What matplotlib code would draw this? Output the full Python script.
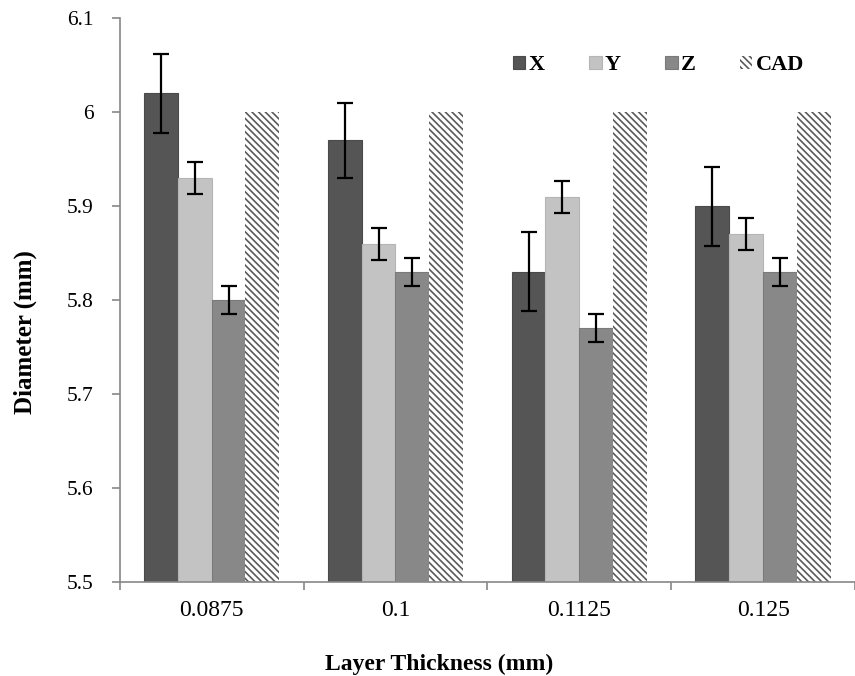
import matplotlib.pyplot as plt
import numpy as np

# -----------------------
# Data
# -----------------------
layers = ["0.0875", "0.1", "0.1125", "0.125"]
x_vals = [6.02, 5.97, 5.83, 5.90]
x_err = [0.042, 0.040, 0.042, 0.042]
y_vals = [5.93, 5.86, 5.91, 5.87]
y_err = [0.017, 0.017, 0.017, 0.017]
z_vals = [5.80, 5.83, 5.77, 5.83]
z_err = [0.015, 0.015, 0.015, 0.015]
cad_vals = [6.0, 6.0, 6.0, 6.0]

plt.rcParams['font.family'] = ['Liberation Serif', 'DejaVu Serif']
plt.rcParams['hatch.linewidth'] = 1.2

fig = plt.figure(figsize=(8.55, 6.76), dpi=100)
ax = fig.add_axes([0.140, 0.139, 0.860, 0.834])

pos = np.arange(len(layers))
w = 0.184
err_kw = dict(ecolor="black", elinewidth=1.6, capsize=6, capthick=1.6)

ax.bar(pos - 1.5 * w, x_vals, w, yerr=x_err, color="#555555", edgecolor="#4a4a4a",
       linewidth=0.8, error_kw=err_kw, label="X")
ax.bar(pos - 0.5 * w, y_vals, w, yerr=y_err, color="#c3c3c3", edgecolor="#b5b5b5",
       linewidth=0.8, error_kw=err_kw, label="Y")
ax.bar(pos + 0.5 * w, z_vals, w, yerr=z_err, color="#888888", edgecolor="#7a7a7a",
       linewidth=0.8, error_kw=err_kw, label="Z")
ax.bar(pos + 1.5 * w, cad_vals, w, color="white", edgecolor="#5a5a5a",
       linewidth=0, hatch="\\\\\\\\\\", label="CAD")

ax.set_ylim(5.5, 6.1)
ax.set_xlim(-0.5, len(layers) - 0.5)
ax.set_yticks([5.5, 5.6, 5.7, 5.8, 5.9, 6.0, 6.1])
ax.set_yticklabels(["5.5", "5.6", "5.7", "5.8", "5.9", "6", "6.1"])
ax.set_xticks(pos)
ax.set_xticklabels(layers)
ax.set_xticks(np.arange(len(layers) + 1) - 0.5, minor=True)
ax.tick_params(axis="x", which="major", length=0, pad=13, labelsize=17)
ax.tick_params(axis="x", which="minor", length=6, color="#888888", width=1.2)
ax.tick_params(axis="y", length=6, color="#888888", width=1.2, labelsize=15.5, pad=13)

for s in ["top", "right"]:
    ax.spines[s].set_visible(False)
for s in ["left", "bottom"]:
    ax.spines[s].set_color("#888888")
    ax.spines[s].set_linewidth(1.2)

ax.set_ylabel("Diameter (mm)", fontsize=18, fontweight="bold")
ax.yaxis.set_label_coords(-0.113, 0.443)
ax.set_xlabel("Layer Thickness (mm)", fontsize=17, fontweight="bold")
ax.xaxis.set_label_coords(0.435, -0.127)

ax.legend(loc="upper right", bbox_to_anchor=(0.958, 0.97), ncol=4, frameon=False,
          handlelength=0.55, handleheight=0.55, handletextpad=0.15,
          columnspacing=2.0, prop={"weight": "bold", "size": 16})

fig.savefig("out.png", dpi=100)
